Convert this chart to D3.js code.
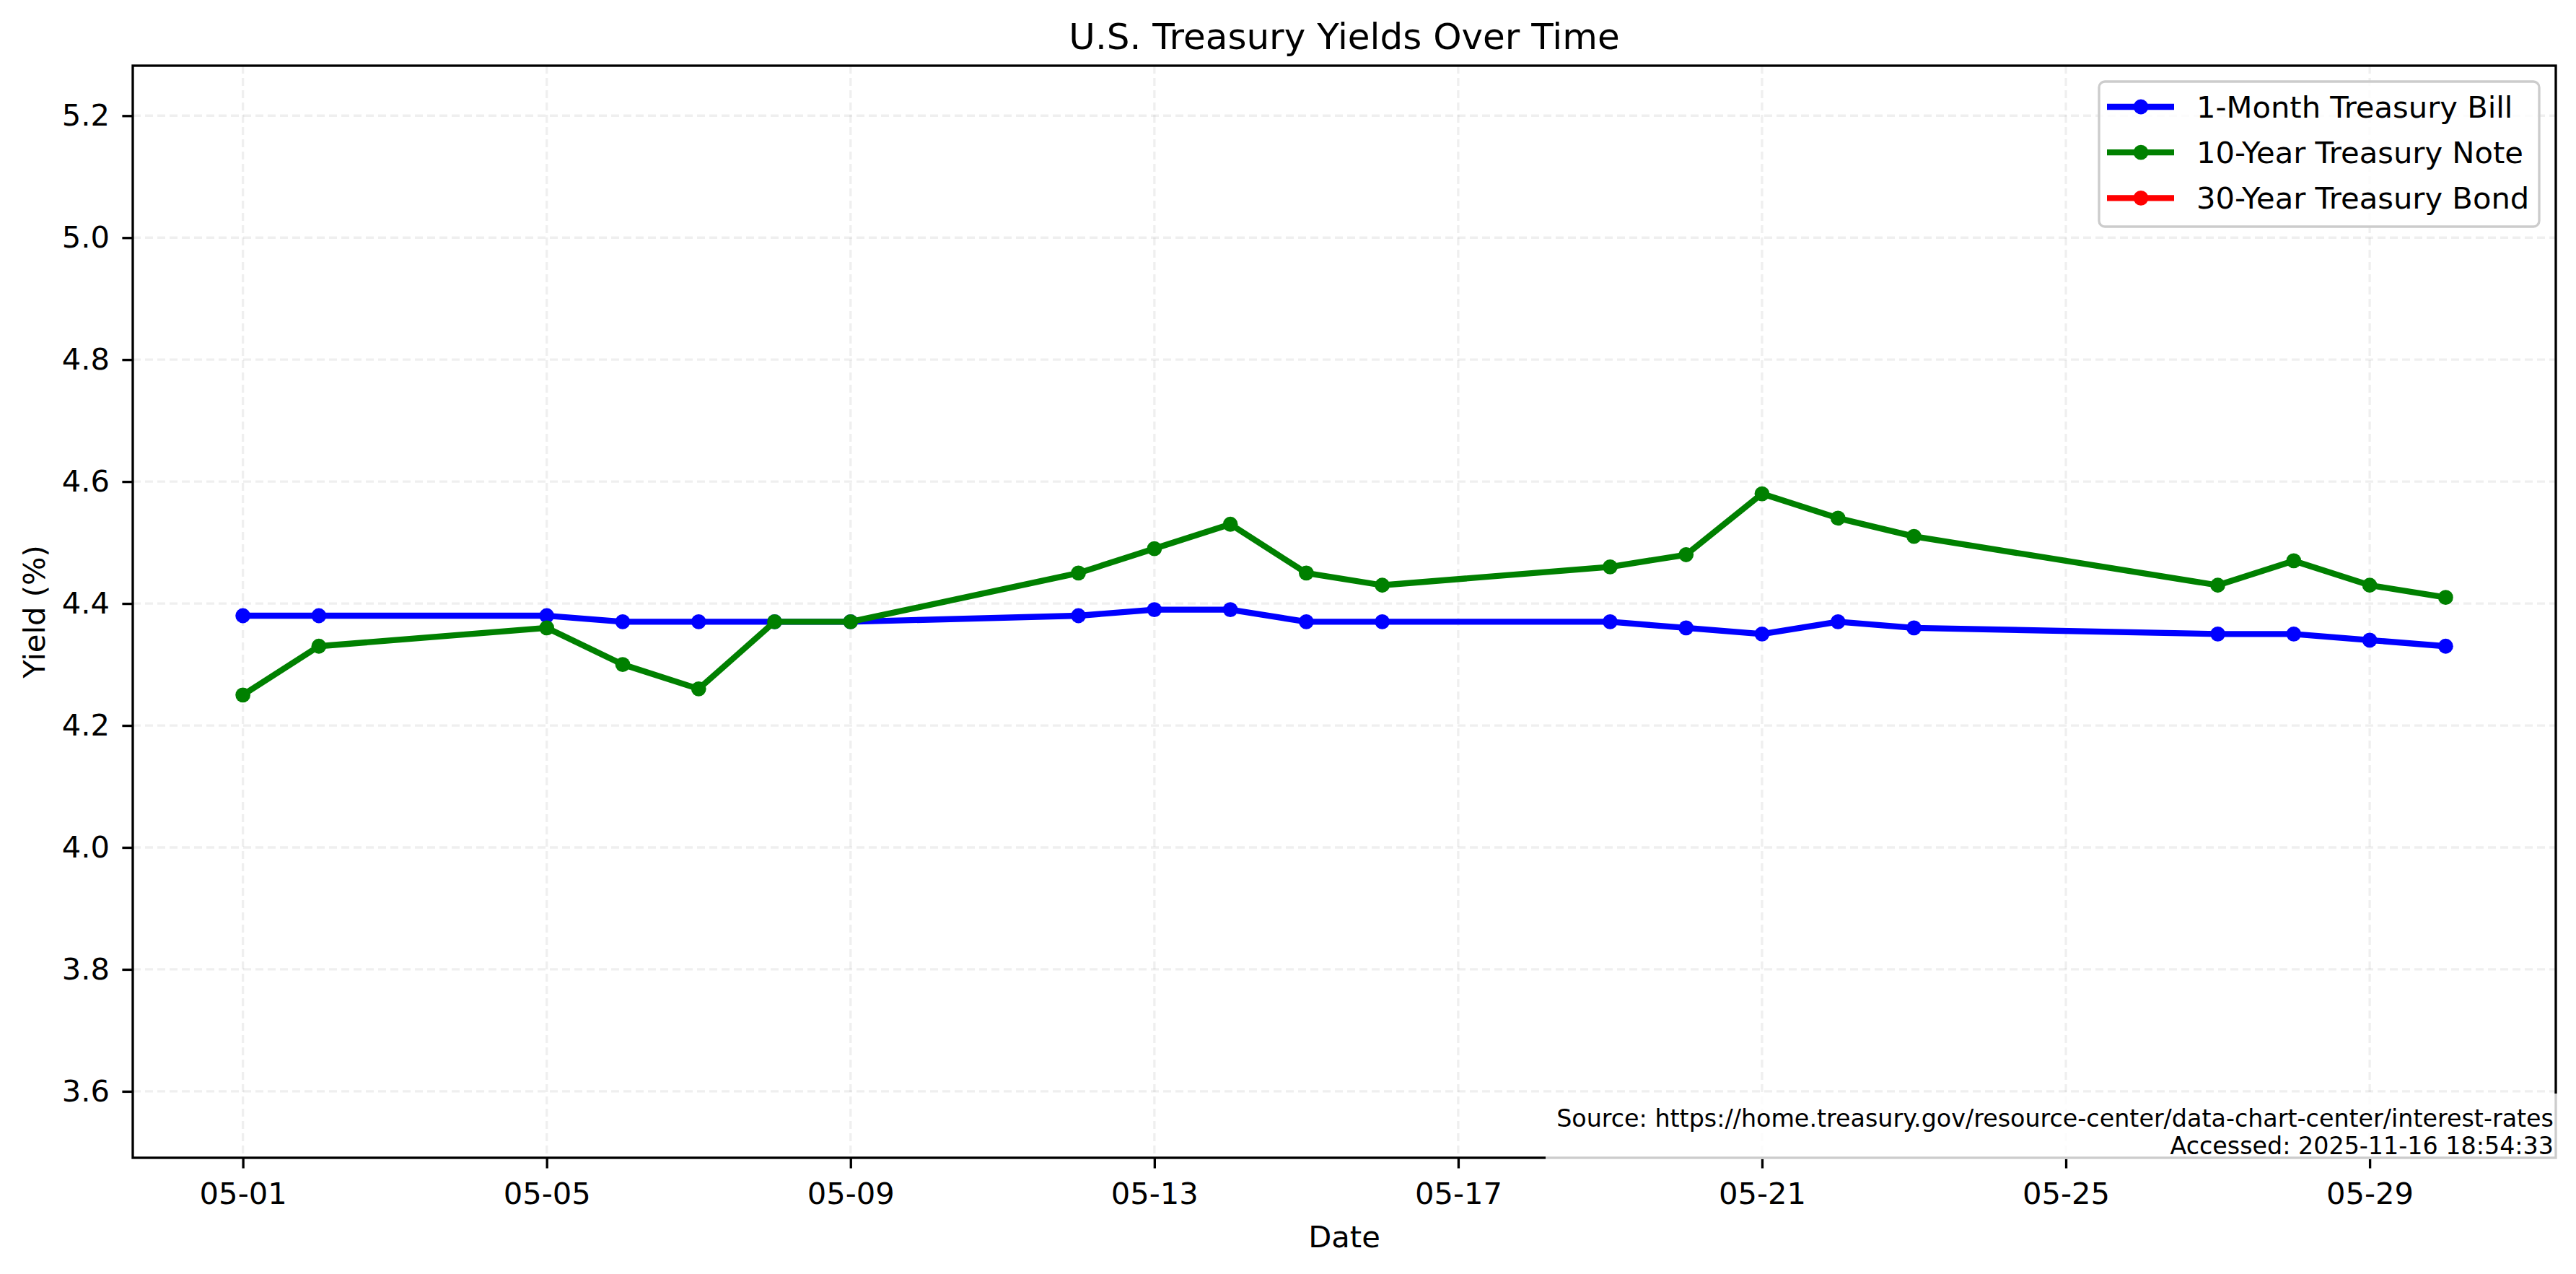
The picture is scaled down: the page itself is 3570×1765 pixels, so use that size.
<!DOCTYPE html>
<html>
<head>
<meta charset="utf-8">
<script src="https://cdn.jsdelivr.net/npm/d3@7"></script>
<style>
  body { margin: 0; background: #fff; }
  svg { display: block; font-family: "DejaVu Sans", sans-serif; }
</style>
</head>
<body>
<div id="chart"></div>
<script>
// ---- data ----
var dates = ["2025-05-01", "2025-05-02", "2025-05-05", "2025-05-06", "2025-05-07", "2025-05-08",
    "2025-05-09", "2025-05-12", "2025-05-13", "2025-05-14", "2025-05-15", "2025-05-16",
    "2025-05-19", "2025-05-20", "2025-05-21", "2025-05-22", "2025-05-23", "2025-05-27",
    "2025-05-28", "2025-05-29", "2025-05-30"];
var oneMonth = [4.38, 4.38, 4.38, 4.37, 4.37, 4.37, 4.37, 4.38, 4.39, 4.39, 4.37, 4.37,
    4.37, 4.36, 4.35, 4.37, 4.36, 4.35, 4.35, 4.34, 4.33];
var tenYear = [4.25, 4.33, 4.36, 4.30, 4.26, 4.37, 4.37, 4.45, 4.49, 4.53, 4.45, 4.43,
    4.46, 4.48, 4.58, 4.54, 4.51, 4.43, 4.47, 4.43, 4.41];
var thirtyYear = []; // no values plotted, legend entry only
var seriesNames = ["1-Month Treasury Bill", "10-Year Treasury Note", "30-Year Treasury Bond"];
var seriesColors = ["#0000ff", "#008000", "#ff0000"];
var yTicks = [3.6, 3.8, 4.0, 4.2, 4.4, 4.6, 4.8, 5.0, 5.2];
var xTickDates = ["2025-05-01", "2025-05-05", "2025-05-09", "2025-05-13", "2025-05-17",
    "2025-05-21", "2025-05-25", "2025-05-29"];
var yRange = [3.491, 5.282];
var sourceLines = ["Source: https://home.treasury.gov/resource-center/data-chart-center/interest-rates",
    "Accessed: 2025-11-16 18:54:33"];

var W = 3570, H = 1765;
var margin = { top: 91, right: 28, bottom: 161, left: 184 };
var width = W - margin.left - margin.right,
    height = H - margin.top - margin.bottom;

var parse = d3.utcParse("%Y-%m-%d");
var series = [oneMonth, tenYear, thirtyYear].map(function (vals, i) {
    return {
        name: seriesNames[i],
        color: seriesColors[i],
        values: vals.map(function (v, j) { return { date: parse(dates[j]), value: v }; })
    };
});

var svg = d3.select("#chart").append("svg")
    .attr("width", W)
    .attr("height", H);
svg.append("rect").attr("width", W).attr("height", H).attr("fill", "#fff");

// x: data extent padded by 5% like matplotlib
var ext = d3.extent(dates, parse);
var pad = (ext[1] - ext[0]) * 0.05;
var x = d3.scaleUtc()
    .domain([new Date(+ext[0] - pad), new Date(+ext[1] + pad)])
    .range([0, width]);
var y = d3.scaleLinear().domain(yRange).range([height, 0]);

var g = svg.append("g")
    .attr("transform", "translate(" + margin.left + "," + margin.top + ")");

// grid
var grid = g.append("g").attr("class", "grid")
    .attr("stroke", "#b0b0b0").attr("stroke-opacity", 0.2)
    .attr("stroke-width", 3.3).attr("stroke-dasharray", "11,6");
grid.selectAll(".gx").data(xTickDates.map(parse)).enter().append("line")
    .attr("x1", function (d) { return x(d); }).attr("x2", function (d) { return x(d); })
    .attr("y1", 0).attr("y2", height);
grid.selectAll(".gy").data(yTicks).enter().append("line")
    .attr("y1", function (d) { return y(d); }).attr("y2", function (d) { return y(d); })
    .attr("x1", 0).attr("x2", width);

// lines + markers
var line = d3.line()
    .x(function (d) { return x(d.date); })
    .y(function (d) { return y(d.value); });

var sg = g.selectAll(".series").data(series).enter().append("g").attr("class", "series");
sg.append("path")
    .attr("d", function (d) { return d.values.length ? line(d.values) : null; })
    .attr("fill", "none")
    .attr("stroke", function (d) { return d.color; })
    .attr("stroke-width", 8.33)
    .attr("stroke-linejoin", "round");
sg.each(function (s) {
    d3.select(this).selectAll("circle").data(s.values).enter().append("circle")
        .attr("cx", function (d) { return x(d.date); })
        .attr("cy", function (d) { return y(d.value); })
        .attr("r", 10.4)
        .attr("fill", s.color);
});

// axes
var xAxis = g.append("g")
    .attr("transform", "translate(0," + height + ")")
    .call(d3.axisBottom(x).tickValues(xTickDates.map(parse))
        .tickFormat(d3.utcFormat("%m-%d")).tickSize(14.6).tickSizeOuter(0));
xAxis.selectAll("text").attr("y", 64).attr("dy", null);

var yAxis = g.append("g")
    .call(d3.axisLeft(y).tickValues(yTicks)
        .tickFormat(d3.format(".1f")).tickSize(14.6).tickSizeOuter(0));
yAxis.selectAll("text").attr("x", -32);

[xAxis, yAxis].forEach(function (a) {
    a.select(".domain").remove();
    a.selectAll("line").attr("stroke", "#000").attr("stroke-width", 3.33);
    a.selectAll("text").attr("fill", "#000")
        .style("font", '41.67px "DejaVu Sans", sans-serif');
});

// spines
g.append("rect")
    .attr("width", width).attr("height", height)
    .attr("fill", "none").attr("stroke", "#000").attr("stroke-width", 3.33);

// titles
svg.append("text")
    .attr("x", margin.left + width / 2).attr("y", 68)
    .attr("text-anchor", "middle")
    .style("font", '50px "DejaVu Sans", sans-serif')
    .text("U.S. Treasury Yields Over Time");

svg.append("text")
    .attr("x", margin.left + width / 2).attr("y", 1728)
    .attr("text-anchor", "middle")
    .style("font", '41.67px "DejaVu Sans", sans-serif')
    .text("Date");

svg.append("text")
    .attr("transform", "translate(62," + (margin.top + height / 2) + ") rotate(-90)")
    .attr("text-anchor", "middle")
    .style("font", '41.67px "DejaVu Sans", sans-serif')
    .text("Yield (%)");

// legend
var legend = svg.append("g").attr("transform", "translate(2909,113)");
legend.append("rect")
    .attr("width", 610).attr("height", 201).attr("rx", 8)
    .attr("fill", "#fff").attr("fill-opacity", 0.8)
    .attr("stroke", "#cccccc").attr("stroke-width", 3.33);
var items = legend.selectAll(".item").data(series).enter().append("g")
    .attr("transform", function (d, i) { return "translate(0," + (35 + i * 63.2) + ")"; });
items.append("line")
    .attr("x1", 11).attr("x2", 104).attr("y1", 0).attr("y2", 0)
    .attr("stroke", function (d) { return d.color; }).attr("stroke-width", 8.33);
items.append("circle")
    .attr("cx", 58).attr("cy", 0).attr("r", 10.4)
    .attr("fill", function (d) { return d.color; });
items.append("text")
    .attr("x", 135).attr("y", 15)
    .style("font", '41.67px "DejaVu Sans", sans-serif')
    .text(function (d) { return d.name; });

// source note box (drawn over the axes like fig.text)
svg.append("rect")
    .attr("x", 2142).attr("y", 1515).attr("width", 1403).attr("height", 91)
    .attr("fill", "#fff").attr("fill-opacity", 0.8);
svg.selectAll(".src").data(sourceLines).enter().append("text")
    .attr("x", 3539)
    .attr("y", function (d, i) { return 1561 + i * 37.5; })
    .attr("text-anchor", "end")
    .style("font", '33.33px "DejaVu Sans", sans-serif')
    .text(function (d) { return d; });
</script>
</body>
</html>
